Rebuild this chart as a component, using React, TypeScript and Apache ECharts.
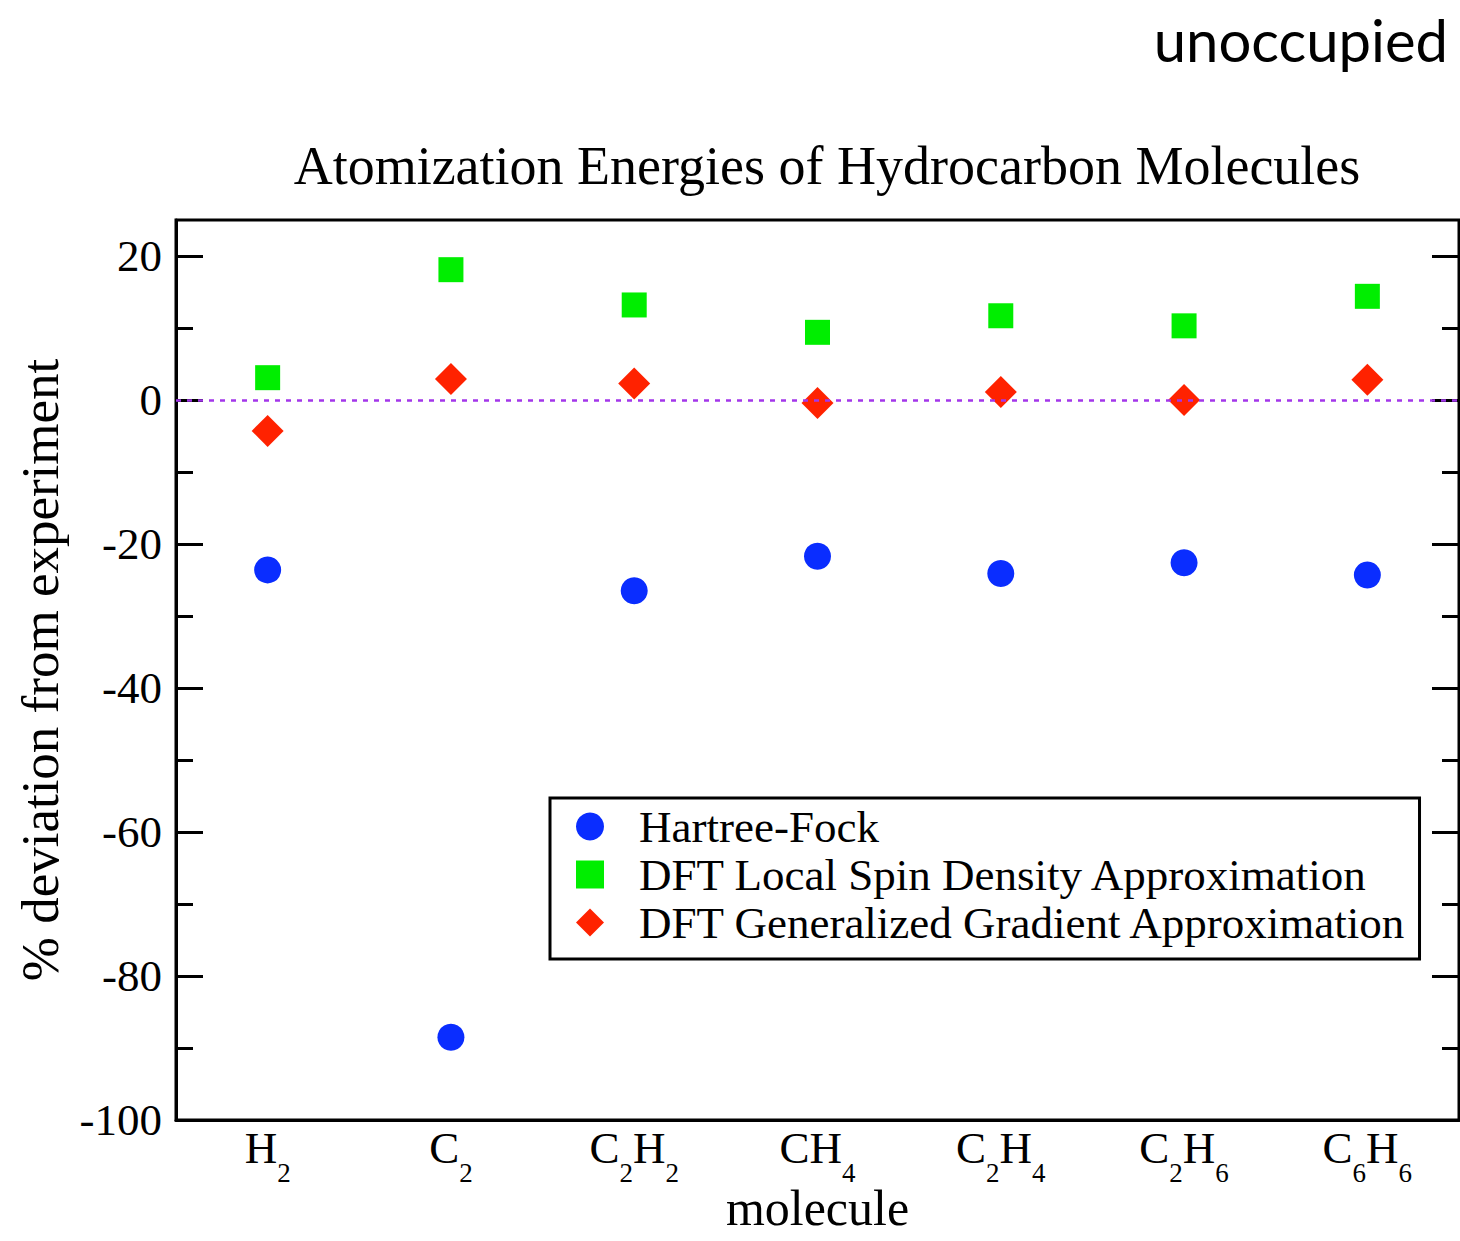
import React, { useEffect, useRef } from "react";
import * as echarts from "echarts";

// Molecules along the x axis (subscripts written as rich-text tokens)
const molecules = ["H2", "C2", "C2H2", "CH4", "C2H4", "C2H6", "C6H6"];
const moleculeLabels = [
  "H{sub|2}",
  "C{sub|2}",
  "C{sub|2}H{sub|2}",
  "CH{sub|4}",
  "C{sub|2}H{sub|4}",
  "C{sub|2}H{sub|6}",
  "C{sub|6}H{sub|6}",
];

// % deviation of computed atomization energies from experiment
const hartreeFock = [-23.6, -88.5, -26.5, -21.7, -24.1, -22.6, -24.3];
const lsda = [3.1, 18.1, 13.2, 9.4, 11.7, 10.3, 14.4];
const gga = [-4.3, 2.9, 2.3, -0.4, 1.1, 0.0, 2.8];

const majorTicks = [-100, -80, -60, -40, -20, 0, 20];
const minorTicks = [-90, -70, -50, -30, -10, 10];

const SERIF = "'Liberation Serif', 'DejaVu Serif', serif";

export default function App() {
  const ref = useRef<HTMLDivElement>(null);

  useEffect(() => {
    if (!ref.current) return;
    const chart = echarts.init(ref.current, undefined, { renderer: "svg" });

    const majorAxis = (position: "left" | "right", showLabels: boolean) => ({
      type: "value",
      position,
      min: -100,
      max: 25,
      axisLine: { show: position === "left", lineStyle: { color: "#000", width: 3 } },
      axisTick: {
        show: true,
        inside: true,
        length: 27,
        customValues: majorTicks,
        lineStyle: { color: "#000", width: 3 },
      },
      axisLabel: {
        show: showLabels,
        customValues: majorTicks,
        fontFamily: SERIF,
        fontSize: 45,
        color: "#000",
        margin: 14,
      },
      splitLine: { show: false },
    });

    const minorAxis = (position: "left" | "right") => ({
      type: "value",
      position,
      min: -100,
      max: 25,
      axisLine: { show: false },
      axisTick: {
        show: true,
        inside: true,
        length: 17,
        customValues: minorTicks,
        lineStyle: { color: "#000", width: 3 },
      },
      axisLabel: { show: false },
      splitLine: { show: false },
    });

    chart.setOption({
      animation: false,
      backgroundColor: "#fff",
      title: {
        text: "Atomization Energies of Hydrocarbon Molecules",
        left: 822,
        textAlign: "center",
        top: 134,
        textStyle: {
          fontFamily: SERIF,
          fontSize: 54,
          fontWeight: "normal",
          color: "#000",
        },
      },
      graphic: [
        {
          type: "text",
          right: 12,
          top: 10,
          style: {
            text: "unoccupied",
            fontFamily: "Lato, 'Noto Sans', sans-serif",
            fontSize: 58,
            fill: "#000",
          },
        },
      ],
      grid: {
        left: 176,
        top: 220,
        right: 1,
        bottom: 121,
        outerBoundsMode: "none",
        show: true,
        borderColor: "#000",
        borderWidth: 3,
        backgroundColor: "transparent",
      },
      legend: {
        orient: "vertical",
        left: 550,
        top: 798,
        padding: [6, 12, 14, 26],
        itemGap: 3,
        itemWidth: 28,
        itemHeight: 28,
        backgroundColor: "#fff",
        borderColor: "#000",
        borderWidth: 3,
        textStyle: {
          fontFamily: SERIF,
          fontSize: 45,
          lineHeight: 40,
          color: "#000",
          padding: [0, 0, 0, 30],
        },
        data: [
          { name: "Hartree-Fock", icon: "circle" },
          { name: "DFT Local Spin Density Approximation", icon: "rect" },
          { name: "DFT Generalized Gradient Approximation", icon: "diamond" },
        ],
      },
      xAxis: {
        type: "category",
        data: molecules,
        boundaryGap: true,
        name: "molecule",
        nameLocation: "middle",
        nameGap: 64,
        nameMoveOverlap: false,
        nameTextStyle: { fontFamily: SERIF, fontSize: 50, lineHeight: 48, color: "#000" },
        axisLine: { onZero: false, lineStyle: { color: "#000", width: 3 } },
        axisTick: { show: false },
        axisLabel: {
          interval: 0,
          margin: 6,
          color: "#000",
          formatter: (_v: string, i: number) => moleculeLabels[i],
          fontFamily: SERIF,
          fontSize: 45,
          lineHeight: 44,
          verticalAlign: "top",
          rich: {
            // subscript digits sit lower and smaller
            sub: {
              fontFamily: SERIF,
              fontSize: 27,
              lineHeight: 27,
              verticalAlign: "top",
              padding: [33, 0, 0, 0],
              color: "#000",
            },
          },
        },
        splitLine: { show: false },
      },
      yAxis: [
        {
          ...majorAxis("left", true),
          name: "% deviation from experiment",
          nameLocation: "middle",
          nameGap: 110,
          nameTextStyle: { fontFamily: SERIF, fontSize: 53, color: "#000" },
        },
        minorAxis("left"),
        majorAxis("right", false),
        minorAxis("right"),
      ],
      series: [
        {
          name: "Hartree-Fock",
          type: "scatter",
          yAxisIndex: 0,
          symbol: "circle",
          symbolSize: 27,
          itemStyle: { color: "#0a2dff", opacity: 1 },
          data: hartreeFock,
          markLine: {
            silent: true,
            symbol: "none",
            label: { show: false },
            lineStyle: { color: "#a336ea", width: 2.5, type: [5, 6], opacity: 1 },
            data: [{ yAxis: 0 }],
          },
        },
        {
          name: "DFT Local Spin Density Approximation",
          type: "scatter",
          yAxisIndex: 0,
          symbol: "rect",
          symbolSize: 25,
          itemStyle: { color: "#00ee00", opacity: 1 },
          data: lsda,
        },
        {
          name: "DFT Generalized Gradient Approximation",
          type: "scatter",
          yAxisIndex: 0,
          symbol: "diamond",
          symbolSize: [32, 32],
          itemStyle: { color: "#ff2200", opacity: 1 },
          data: gga,
        },
      ],
    });

    return () => chart.dispose();
  }, []);

  return (
    <div
      ref={ref}
      style={{ position: "fixed", left: 0, top: 0, width: 1460, height: 1241 }}
    />
  );
}
